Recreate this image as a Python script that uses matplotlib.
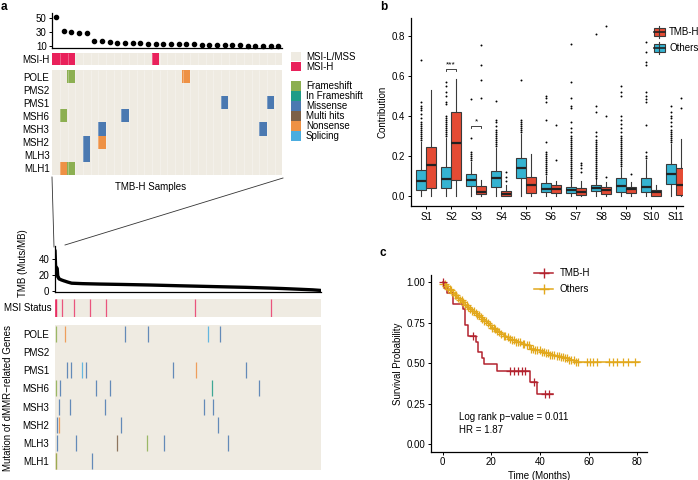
import numpy as np
import matplotlib
matplotlib.use('Agg')
import matplotlib.pyplot as plt
from matplotlib.colors import ListedColormap
from matplotlib.patches import Rectangle
from matplotlib.lines import Line2D

plt.rcParams['font.family'] = ['Liberation Sans', 'DejaVu Sans']
plt.rcParams['font.size'] = 7

# ---------------- panel a data ----------------
genes = ['POLE', 'PMS2', 'PMS1', 'MSH6', 'MSH3', 'MSH2', 'MLH3', 'MLH1']
mut_types = ['Frameshift', 'In Frameshift', 'Missense', 'Multi hits', 'Nonsense', 'Splicing']
mut_colors = ['#8CAF51', '#1F9C87', '#4B79B1', '#7D6047', '#EE9145', '#4BADE0']
bg = '#EFEBE2'
msi_red = '#E9215B'

# TMB of the 30 TMB-H samples (sorted)
tmb_h = [51.4, 32.2, 29.8, 29.3, 28.3, 17.7, 17.2, 15.3, 14.8, 14.6,
         14.3, 13.9, 13.6, 13.4, 13.1, 12.9, 12.6, 12.4, 12.2, 11.9,
         11.7, 11.5, 11.2, 11.0, 10.8, 10.6, 10.4, 10.2, 10.0, 9.8]
msi_h_top = [0, 1, 2, 13]
# (gene, sample, type) for TMB-H samples
top_muts = [('POLE', 2, 'Frameshift'), ('POLE', 17, 'Nonsense'),
            ('PMS1', 22, 'Missense'), ('PMS1', 28, 'Missense'),
            ('MSH6', 1, 'Frameshift'), ('MSH6', 9, 'Missense'),
            ('MSH3', 6, 'Missense'), ('MSH3', 27, 'Missense'),
            ('MSH2', 4, 'Missense'), ('MSH2', 6, 'Nonsense'),
            ('MLH3', 4, 'Missense'),
            ('MLH1', 1, 'Nonsense'), ('MLH1', 2, 'Frameshift')]

# whole cohort
n_samples = 480
tmb_rest_rank = [30, 50, 80, 120, 170, 225, 290, 345, 390, 410, 440, 465, 479]
tmb_rest_val = [9.6, 9.0, 8.5, 8.0, 7.3, 6.3, 5.2, 4.3, 3.3, 2.8, 1.9, 1.1, 0.4]
msi_h_rest = [33, 62, 91, 252, 389]
rest_muts = [('POLE', 125, 'Missense'), ('POLE', 167, 'Missense'),
             ('POLE', 275, 'Splicing'), ('POLE', 297, 'Missense'),
             ('PMS1', 48, 'Splicing'), ('PMS1', 55, 'Missense'),
             ('PMS1', 212, 'Missense'), ('PMS1', 254, 'Nonsense'),
             ('PMS1', 345, 'Missense'),
             ('MSH6', 73, 'Missense'), ('MSH6', 99, 'Missense'),
             ('MSH6', 282, 'In Frameshift'), ('MSH6', 368, 'Missense'),
             ('MSH3', 90, 'Missense'), ('MSH3', 268, 'Missense'),
             ('MSH3', 284, 'Missense'),
             ('MSH2', 118, 'Missense'), ('MSH2', 293, 'Missense'),
             ('MLH3', 37, 'Missense'), ('MLH3', 111, 'Multi hits'),
             ('MLH3', 165, 'Frameshift'), ('MLH3', 196, 'Missense'),
             ('MLH3', 312, 'Missense'),
             ('MLH1', 66, 'Missense')]

# ---------------- panel b data ----------------
sigs = ['S1', 'S2', 'S3', 'S4', 'S5', 'S6', 'S7', 'S8', 'S9', 'S10', 'S11']
oth_lo = [0, 0, 0, 0, 0, 0, 0, 0, 0, 0, 0]
oth_q1 = [0.030, 0.040, 0.052, 0.047, 0.092, 0.022, 0.013, 0.027, 0.018, 0.018, 0.060]
oth_med = [0.075, 0.083, 0.080, 0.088, 0.138, 0.037, 0.030, 0.038, 0.052, 0.047, 0.108]
oth_q3 = [0.130, 0.147, 0.108, 0.127, 0.188, 0.063, 0.043, 0.055, 0.088, 0.088, 0.158]
oth_hi = [0.27, 0.29, 0.17, 0.24, 0.31, 0.10, 0.08, 0.083, 0.14, 0.18, 0.26]
oth_fl = [
    [.28, .29, .30, .31, .32, .33, .34, .35, .36, .37, .39, .41, .43, .44, .45, .47, .68],
    [.30, .31, .32, .33, .34, .35, .36, .37, .38, .39, .40, .46, .47, .50, .52, .55, .57],
    [.18, .19, .20, .21, .22, .29, .485],
    [.25, .26, .27, .28, .29, .30, .31, .32, .33, .35, .37, .38, .475],
    [.32, .33, .34, .35, .36, .37, .38, .58],
    [.11, .12, .13, .14, .15, .16, .17, .18, .19, .20, .21, .22, .27, .38, .47, .49, .50],
    [.09, .10, .11, .12, .13, .14, .15, .16, .17, .18, .19, .20, .21, .22, .23, .24,
     .25, .26, .27, .28, .29, .30, .32, .34, .37, .44, .45, .49, .57, .76],
    [.09, .10, .11, .12, .13, .14, .15, .16, .17, .18, .19, .20, .21, .22, .23, .24,
     .25, .26, .27, .28, .30, .32, .42, .45, .81],
    [.15, .16, .17, .18, .19, .20, .21, .22, .23, .24, .25, .26, .27, .28, .29, .30,
     .32, .34, .36, .38, .40, .50, .52, .55],
    [.19, .20, .22, .355, .47, .485, .50, .52, .655, .67, .72, .77],
    [.27, .28, .29, .30, .31, .32, .33, .35, .37, .39, .40, .42, .45],
]
tmb_lo = [0, 0, 0, 0, 0, 0, 0, 0, 0, 0, 0]
tmb_q1 = [0.042, 0.080, 0.008, 0.000, 0.013, 0.017, 0.005, 0.010, 0.013, 0.000, 0.005]
tmb_med = [0.155, 0.267, 0.022, 0.010, 0.055, 0.035, 0.022, 0.030, 0.035, 0.022, 0.055]
tmb_q3 = [0.247, 0.420, 0.052, 0.023, 0.097, 0.055, 0.038, 0.047, 0.043, 0.030, 0.138]
tmb_hi = [0.53, 0.583, 0.08, 0.055, 0.208, 0.075, 0.075, 0.072, 0.072, 0.055, 0.283]
tmb_fl = [[], [], [.49, .58, .655, .755], [.077, .097, .12], [], [.18, .355],
          [.12, .14, .155, .165], [.097, .40, .85], [.11], [], [.44, .49]]

# ---------------- panel c data ----------------
red_t = [0, 0.7, 1.6, 4.1, 8.2, 9.2, 10.3, 13.5, 14.6, 16.0, 17.0, 22.2, 35.9, 38.9, 45.2]
red_s = [1.0, 0.967, 0.933, 0.867, 0.833, 0.733, 0.667, 0.633, 0.567, 0.533, 0.493,
         0.450, 0.385, 0.310, 0.310]
red_cens = [0, 12.6, 27.6, 29.3, 30.8, 32.4, 33.8, 37.5, 42.0, 43.7]
gold_t = [0, 1, 2, 3, 4, 5, 6, 7, 8, 9, 10, 11, 12, 13, 14, 15, 16, 17, 18, 19, 20,
          21, 22, 23, 24, 25, 26, 27, 28, 30, 32, 34, 36, 38, 40, 42, 44, 46, 48,
          50, 52, 54, 81]
gold_s = [0.99, 0.975, 0.96, 0.95, 0.935, 0.92, 0.905, 0.89, 0.875, 0.86, 0.85,
          0.835, 0.82, 0.81, 0.795, 0.785, 0.77, 0.76, 0.745, 0.735, 0.72, 0.71,
          0.70, 0.69, 0.68, 0.67, 0.66, 0.65, 0.64, 0.63, 0.62, 0.61, 0.59, 0.58,
          0.57, 0.56, 0.553, 0.545, 0.537, 0.53, 0.522, 0.509, 0.509]
gold_cens = [0.3, 0.8, 1.5, 2.2, 2.9, 3.5, 4.3, 5.0, 5.6, 6.3, 7.1, 7.8, 8.4, 9.1,
             9.9, 10.6, 11.2, 12.0, 12.8, 13.5, 14.1, 14.9, 15.7, 16.3, 17.0, 17.8,
             18.6, 19.3, 20.1, 20.9, 21.6, 22.4, 23.3, 24.1, 25.0, 25.8, 26.7, 27.5,
             28.4, 29.3, 30.2, 31.0, 31.9, 32.8, 33.6, 34.5, 35.4, 36.2, 37.1, 38.0,
             38.9, 39.8, 40.6, 41.5, 42.4, 43.3, 44.1, 45.0, 45.9, 46.8, 47.6, 48.5,
             49.4, 50.3, 51.1, 52.0, 52.9, 53.8, 54.6, 55.5, 59.1, 60.5, 61.9, 63.2,
             68.4, 69.8, 71.7, 74.2, 76.2, 79.0]

# ---------------- layout helpers (pixel coords) ----------------
W, H = 698, 480
fig = plt.figure(figsize=(W / 100, H / 100), dpi=100)


def rect(l, t, r, b):
    return [l / W, 1 - b / H, (r - l) / W, (b - t) / H]


def fx(x):
    return x / W


def fy(y):
    return 1 - y / H


def style_axis(ax):
    ax.spines['top'].set_visible(False)
    ax.spines['right'].set_visible(False)
    ax.tick_params(length=2.5, width=0.7, pad=1.5, labelsize=7)
    for s in ['left', 'bottom']:
        ax.spines[s].set_linewidth(0.9)


# ---------------- panel a: top (TMB-H) ----------------
ax = fig.add_axes(rect(52.3, 13.3, 282.3, 47.7))
ax.scatter(range(len(tmb_h)), tmb_h, s=9, color='black', zorder=3, clip_on=False)
ax.set_xlim(-0.5, 29.5)
ax.set_ylim(7.6, 57)
ax.set_yticks([10, 30, 50])
ax.set_xticks([])
style_axis(ax)

ax = fig.add_axes(rect(52.3, 52.7, 282.3, 65))
msi_row = np.zeros((1, len(tmb_h)))
msi_row[0, msi_h_top] = 1
ax.imshow(msi_row, cmap=ListedColormap([bg, msi_red]), vmin=0, vmax=1,
          aspect='auto', interpolation='nearest', extent=(-0.5, 29.5, 0.5, -0.5))
ax.vlines(np.arange(0.5, 29.5), -0.5, 0.5, color='white', lw=0.4, alpha=0.5)
ax.set_xticks([])
ax.set_yticks([0])
ax.set_yticklabels(['MSI-H'])
ax.tick_params(length=0, pad=2, labelsize=7)
for s in ax.spines.values():
    s.set_visible(False)

ax = fig.add_axes(rect(52.3, 70, 282.3, 175))
mat = np.zeros((len(genes), len(tmb_h)))
for g, i, t in top_muts:
    mat[genes.index(g), i] = mut_types.index(t) + 1
ax.imshow(mat, cmap=ListedColormap([bg] + mut_colors), vmin=0, vmax=6,
          aspect='auto', interpolation='nearest',
          extent=(-0.5, 29.5, len(genes) - 0.5, -0.5))
ax.vlines(np.arange(0.5, 29.5), -0.5, len(genes) - 0.5, color='white', lw=0.4, alpha=0.5)
ax.set_xticks([])
ax.set_yticks(range(len(genes)))
ax.set_yticklabels(genes)
ax.tick_params(length=0, pad=2, labelsize=7)
for s in ax.spines.values():
    s.set_visible(False)
fig.text(fx(151), fy(187), 'TMB-H Samples', ha='center', va='center', fontsize=7)

# legend for heatmap
leg_items = [('MSI-L/MSS', bg, 56.5), ('MSI-H', msi_red, 66.5)]
for k, (name, col) in enumerate(zip(mut_types, mut_colors)):
    leg_items.append((name, col, 86 + 10 * k))
for name, col, yc in leg_items:
    fig.patches.append(Rectangle((fx(291), fy(yc + 4.6)), 10 / W, 9.2 / H,
                                 transform=fig.transFigure, facecolor=col,
                                 edgecolor='none'))
    fig.text(fx(306), fy(yc), name, ha='left', va='center', fontsize=7)

# zoom lines
fig.add_artist(Line2D([fx(52), fx(54)], [fy(177), fy(247)], transform=fig.transFigure,
                      color='#333333', lw=0.6))
fig.add_artist(Line2D([fx(283), fx(65)], [fy(178), fy(245)], transform=fig.transFigure,
                      color='#333333', lw=0.6))

# ---------------- panel a: bottom (all samples) ----------------
ax = fig.add_axes(rect(55, 246, 321, 291.5))
ax.plot(list(range(len(tmb_h))) + tmb_rest_rank, tmb_h + tmb_rest_val,
        color='black', lw=2.4, solid_capstyle='round')
ax.set_xlim(0, n_samples)
ax.set_ylim(-1, 57)
ax.set_yticks([0, 20, 40])
ax.set_xticks([])
style_axis(ax)
fig.text(fx(23), fy(263), 'TMB (Muts/MB)', rotation=90, ha='center', va='center', fontsize=7)

ax = fig.add_axes(rect(55, 299, 321, 317))
ax.set_facecolor(bg)
ax.vlines([i + 0.5 for i in msi_h_top + msi_h_rest], 0, 1, color=msi_red, lw=0.9, alpha=0.75)
ax.set_xlim(0, n_samples)
ax.set_ylim(0, 1)
ax.set_xticks([])
ax.set_yticks([])
for s in ax.spines.values():
    s.set_visible(False)
fig.text(fx(52), fy(308), 'MSI Status', ha='right', va='center', fontsize=7)

ax = fig.add_axes(rect(55, 325, 321, 470))
ax.set_facecolor(bg)
for g, i, t in top_muts + rest_muts:
    r = genes.index(g)
    ax.vlines(i + 0.5, r + 0.06, r + 0.94, color=mut_colors[mut_types.index(t)],
              lw=0.9, alpha=0.85)
ax.set_xlim(0, n_samples)
ax.set_ylim(len(genes), 0)
ax.set_xticks([])
ax.set_yticks([r + 0.5 for r in range(len(genes))])
ax.set_yticklabels(genes)
ax.tick_params(length=0, pad=4, labelsize=7)
for s in ax.spines.values():
    s.set_visible(False)
fig.text(fx(8), fy(398), 'Mutation of dMMR\u2212related Genes', rotation=90,
         ha='center', va='center', fontsize=7)

fig.text(fx(1), fy(6.5), 'a', fontsize=8.5, fontweight='bold', ha='left', va='center')

# ---------------- panel b ----------------
blue = '#35B3D1'
red = '#E44B34'
ax = fig.add_axes(rect(411, 18, 683, 206))
pos = np.arange(1, len(sigs) + 1)
common = dict(widths=0.4, patch_artist=True, showcaps=False,
              whiskerprops=dict(color='#3a3a3a', lw=0.8),
              medianprops=dict(color='#222222', lw=1.6),
              flierprops=dict(marker='o', markersize=1.4, markerfacecolor='black',
                              markeredgecolor='none'))
for lo, q1, med, q3, hi, fl, col, off in [
        (oth_lo, oth_q1, oth_med, oth_q3, oth_hi, oth_fl, blue, -0.2),
        (tmb_lo, tmb_q1, tmb_med, tmb_q3, tmb_hi, tmb_fl, red, 0.2)]:
    stats = [dict(whislo=lo[i], q1=q1[i], med=med[i], q3=q3[i], whishi=hi[i],
                  fliers=np.array(fl[i])) for i in range(len(sigs))]
    ax.bxp(stats, positions=pos + off,
           boxprops=dict(facecolor=col, edgecolor='#3a3a3a', lw=0.8), **common)
ax.set_xlim(0.4, 11.28)
ax.set_ylim(-0.05, 0.89)
ax.set_xticks(pos)
ax.set_xticklabels(sigs)
ax.set_yticks([0.0, 0.2, 0.4, 0.6, 0.8])
ax.set_yticklabels(['0.0', '0.2', '0.4', '0.6', '0.8'])
style_axis(ax)
ax.set_ylabel('Contribution', fontsize=7, labelpad=3)
# significance brackets
for xc, yb, lab in [(2, 0.635, '***'), (3, 0.35, '*')]:
    ax.plot([xc - 0.2, xc - 0.2, xc + 0.2, xc + 0.2], [yb - 0.012, yb, yb, yb - 0.012],
            color='#222222', lw=0.6)
    ax.text(xc, yb + 0.002, lab, ha='center', va='bottom', fontsize=6)
# legend
for yc, col, name in [(32, red, 'TMB-H'), (48, blue, 'Others')]:
    fig.add_artist(Line2D([fx(659), fx(659)], [fy(yc - 6), fy(yc + 6)],
                          transform=fig.transFigure, color='#3a3a3a', lw=0.8))
    fig.patches.append(Rectangle((fx(653.5), fy(yc + 4)), 11 / W, 8 / H,
                                 transform=fig.transFigure, facecolor=col,
                                 edgecolor='#3a3a3a', lw=0.8))
    fig.add_artist(Line2D([fx(653.5), fx(664.5)], [fy(yc), fy(yc)],
                          transform=fig.transFigure, color='#222222', lw=1.2))
    fig.text(fx(669), fy(yc), name, ha='left', va='center', fontsize=7)
fig.text(fx(380), fy(6.5), 'b', fontsize=8.5, fontweight='bold', ha='left', va='center')

# ---------------- panel c ----------------
km_red = '#B3232F'
km_gold = '#E2A81C'
ax = fig.add_axes(rect(431, 275, 646.7, 451.7))
ax.step(gold_t, gold_s, where='post', color=km_gold, lw=1.1)
ax.step(red_t, red_s, where='post', color=km_red, lw=1.1)
gold_cs = [gold_s[np.searchsorted(gold_t, t, side='right') - 1] for t in gold_cens]
red_cs = [red_s[np.searchsorted(red_t, t, side='right') - 1] for t in red_cens]
ax.plot(gold_cens, gold_cs, '+', color=km_gold, ms=6, mew=0.9)
ax.plot(red_cens, red_cs, '+', color=km_red, ms=6, mew=0.9)
ax.set_xlim(-4.8, 83.8)
ax.set_ylim(-0.048, 1.045)
ax.set_xticks([0, 20, 40, 60, 80])
ax.set_yticks([0, 0.25, 0.5, 0.75, 1.0])
ax.set_yticklabels(['0.00', '0.25', '0.50', '0.75', '1.00'])
style_axis(ax)
ax.set_xlabel('Time (Months)', fontsize=7, labelpad=3)
ax.set_ylabel('Survival Probability', fontsize=7, labelpad=3)
ax.text(6.5, 0.165, 'Log rank p\u2212value = 0.011', fontsize=7, va='center')
ax.text(6.5, 0.087, 'HR = 1.87', fontsize=7, va='center')
for yc, col, name in [(272.7, km_red, 'TMB-H'), (289, km_gold, 'Others')]:
    fig.add_artist(Line2D([fx(534), fx(553)], [fy(yc), fy(yc)], transform=fig.transFigure,
                          color=col, lw=1.1))
    fig.add_artist(Line2D([fx(543.5)], [fy(yc)], transform=fig.transFigure, color=col,
                          marker='+', ms=7, mew=1.0))
    fig.text(fx(560), fy(yc), name, ha='left', va='center', fontsize=7)
fig.text(fx(380), fy(253), 'c', fontsize=8.5, fontweight='bold', ha='left', va='center')

fig.savefig('out.png', dpi=100)
